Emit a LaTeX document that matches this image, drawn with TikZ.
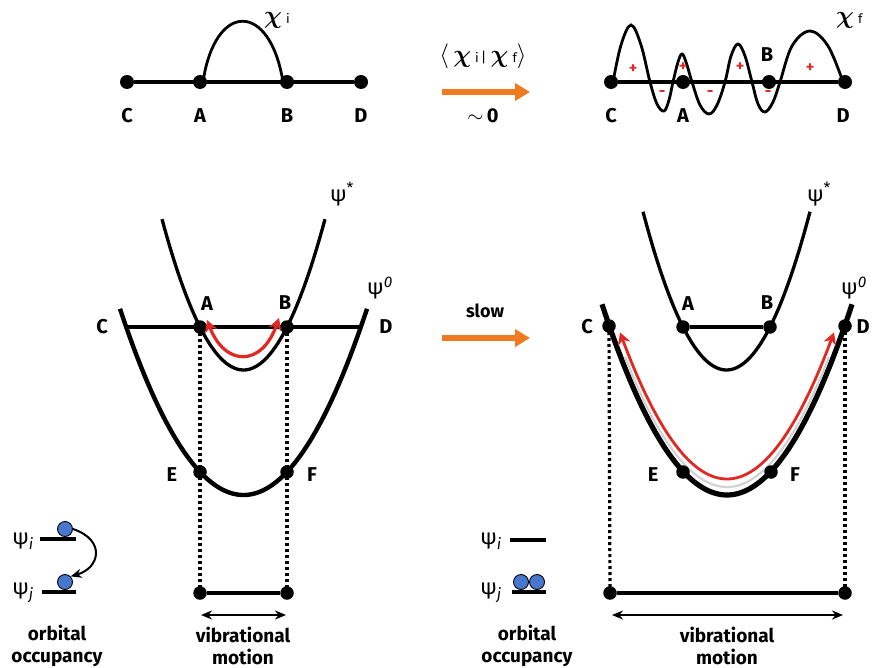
\documentclass[tikz,border=0pt]{standalone}
\usepackage{bm}
\usepackage{fontspec}
\setmainfont{Fira Sans}
\usetikzlibrary{arrows.meta}
\definecolor{orng}{RGB}{240,122,32}
\definecolor{redc}{RGB}{225,40,35}
\definecolor{ballc}{RGB}{70,120,205}
\begin{document}
\begin{tikzpicture}[x=1pt,y=-1pt,
  dot/.style={circle,fill=black,inner sep=0pt,minimum size=14pt},
  sdot/.style={circle,fill=black,inner sep=0pt,minimum size=13.5pt},
  lbl/.style={font=\fontsize{20}{22}\selectfont\bfseries,inner sep=0pt},
  psil/.style={font=\fontsize{22}{24}\selectfont,inner sep=0pt},
  chil/.style={font=\fontsize{24}{26}\selectfont,inner sep=0pt},
  sgn/.style={text=redc,font=\fontsize{16}{17}\selectfont\bfseries,inner sep=0pt},
  axisline/.style={line width=4pt},
  thinbar/.style={line width=3.6pt},
  pstar/.style={line width=3.3pt},
  pzero/.style={line width=4.4pt},
  dotline/.style={line width=3.2pt,dash pattern=on 3pt off 3pt},
  motion/.style={line width=2pt,{Stealth[length=11pt,width=9pt]}-{Stealth[length=11pt,width=9pt]}},
  orarrow/.style={orng,line width=6pt,-{Triangle[length=15pt,width=17pt]}},
  redtips/.style={{Stealth[length=12pt,width=13pt,inset=4pt]}-{Stealth[length=12pt,width=13pt,inset=4pt]}},
  level/.style={line width=4.4pt},
  ball/.style={circle,fill=ballc,draw=black,line width=0.9pt,inner sep=0pt,minimum size=15pt},
  bot/.style={font=\fontsize{19}{22}\selectfont\bfseries,align=center,inner sep=0pt}]
\useasboundingbox (0,0) rectangle (877,668);

% ---------- top left: chi_i ----------
\node[dot] (tC) at (127,82) {};
\node[dot] (tA) at (200,82) {};
\node[dot] (tB) at (287,82) {};
\node[dot] (tD) at (361,82) {};
\draw[axisline] (tC) -- (tD);
\draw[line width=2.8pt] ([xshift=3pt]tA.center) .. controls (215,1) and (270,1) .. ([xshift=-4pt]tB.center);
\node[lbl] (ltC) at (127,116) {C};
\node[lbl] (ltA) at (200,116) {A};
\node[lbl] (ltB) at (287,116) {B};
\node[lbl] (ltD) at (361,116) {D};
\node[chil,anchor=west] (chii) at (264,20) {$\bm{\chi}$\kern4pt{\fontsize{13}{13}\selectfont i}};

% ---------- top middle ----------
\node[chil] (braket) at (483,56) {$\langle\,\bm{\chi}$\,{\fontsize{13}{13}\selectfont i\,}{\fontsize{14}{14}\selectfont|}\,$\bm{\chi}$\,{\fontsize{13}{13}\selectfont f}$\rangle$};
\coordinate (oa1) at (442,92);
\coordinate (oa2) at (530,92);
\draw[orarrow] (oa1) -- (oa2);
\node[lbl] (approx) at (483,116) {$\sim$\,0};

% ---------- top right: chi_f ----------
\node[dot] (rC) at (611,82) {};
\node[dot] (rA) at (683,82) {};
\node[dot] (rB) at (769,82) {};
\node[dot] (rD) at (845,82) {};
\draw[axisline] (rC) -- (rD);
\draw[line width=2.8pt] plot[smooth,tension=0.6] coordinates {(613,82) (621,45) (631,25) (641,45) (650,82) (657,104) (664,111) (669,100) (673,82) (678,62) (682,54) (686,62) (692,82) (700,105) (709,114) (717,105) (725,82) (731,56) (738,44) (745,56) (752,82) (758,104) (765,112) (773,102) (780,82) (792,46) (810,31) (828,46) (843,82)};
\node[lbl] (rlC) at (611,116) {C};
\node[lbl] (rlA) at (683,116) {A};
\node[lbl] (rlB) at (767,55) {B};
\node[lbl] (rlD) at (843,116) {D};
\node[chil,anchor=west] (chif) at (836,20) {$\bm{\chi}$\kern4pt{\fontsize{13}{13}\selectfont f}};
\node[sgn] (s1) at (633,69) {+};
\node[sgn] (s2) at (662,94) {-};
\node[sgn] (s3) at (683,67) {+};
\node[sgn] (s4) at (710,94) {-};
\node[sgn] (s5) at (740,67) {+};
\node[sgn] (s6) at (768,94) {-};
\node[sgn] (s7) at (810,68) {+};

% ---------- lower left ----------
\draw[pstar] plot[domain=162:325,samples=60] (\x,{370-0.0227*(\x-243.5)^2});
\draw[pzero] plot[domain=120:367,samples=80] (\x,{495-0.0122*(\x-243.5)^2});
\node[sdot] (lA) at (200,327) {};
\node[sdot] (lB) at (287,327) {};
\node[sdot] (lE) at (200,472) {};
\node[sdot] (lF) at (287,472) {};
\coordinate (lCe) at (127,327);
\coordinate (lDe) at (360,327);
\draw[thinbar] (lCe) -- (lDe);
\coordinate (ra1) at (207,320);
\coordinate (ra2) at (279,318);
\draw[redc,line width=3.2pt,redtips] (ra1) .. controls (225,367) and (262,367) .. (ra2);
\node[sdot] (lL) at (200,593) {};
\node[sdot] (lR) at (287,593) {};
\draw[dotline] (lA.center) -- (lL.center);
\draw[dotline] (lB.center) -- (lR.center);
\draw[axisline] (lL) -- (lR);
\coordinate (lm1) at (201,615);
\coordinate (lm2) at (286,615);
\draw[motion] (lm1) -- (lm2);
\node[lbl] (llC) at (102,327) {C};
\node[lbl] (llD) at (386,327) {D};
\node[lbl] (llA) at (207,304) {A};
\node[lbl] (llB) at (285,303) {B};
\node[lbl] (llE) at (172,475) {E};
\node[lbl] (llF) at (312,475) {F};
\node[psil] (lpstar) at (342,194) {ψ\textsuperscript{*}};
\node[psil] (lpzero) at (380,288) {ψ\textsuperscript{\itshape 0}};
\node[bot] (lvib) at (243,646) {vibrational\\motion};

% orbital occupancy left
\node[psil] (lpi) at (23,541) {ψ\textsubscript{\itshape i}};
\node[psil] (lpj) at (23,593) {ψ\textsubscript{\itshape j}};
\coordinate (li1) at (40,539);
\coordinate (li2) at (76,539);
\coordinate (lj1) at (42,592);
\coordinate (lj2) at (76,592);
\draw[level] (li1) -- (li2);
\draw[level] (lj1) -- (lj2);
\node[ball] (lb1) at (65,529) {};
\node[ball] (lb2) at (65,582) {};
\draw[line width=2pt,-{Stealth[length=11pt,width=9pt]}] (lb1.east) .. controls (106,540) and (100,568) .. (lb2.north east);
\node[bot] (lorb) at (57,646) {orbital\\occupancy};

% ---------- middle arrow ----------
\node[lbl,font=\fontsize{18}{20}\selectfont\bfseries] (slow) at (485,311) {slow};
\coordinate (sa1) at (442,338);
\coordinate (sa2) at (530,338);
\draw[orarrow] (sa1) -- (sa2);

% ---------- lower right ----------
\draw[pstar] plot[domain=643:810,samples=60] (\x,{370-0.0227*(\x-726.5)^2});
\draw[line width=5.2pt] plot[domain=602:852,samples=80] (\x,{495-0.0122*(\x-727)^2});
\draw[gray!35,line width=2.2pt] plot[domain=625:829,samples=80] (\x,{487-0.0125*(\x-727)^2});
\draw[redc,line width=2.8pt,redtips] plot[domain=620:834,samples=80] (\x,{479-0.0128*(\x-727)^2});
\node[sdot] (rrA) at (683,327) {};
\node[sdot] (rrB) at (770,327) {};
\draw[thinbar] (rrA) -- (rrB);
\node[sdot] (rrC) at (609,326) {};
\node[sdot] (rrD) at (845,326) {};
\node[sdot] (rrE) at (683,472) {};
\node[sdot] (rrF) at (771,472) {};
\node[sdot] (rrL) at (610,593) {};
\node[sdot] (rrR) at (845,593) {};
\draw[dotline] (rrC.center) -- (rrL.center);
\draw[dotline] (rrD.center) -- (rrR.center);
\draw[axisline] (rrL) -- (rrR);
\coordinate (rm1) at (612,615);
\coordinate (rm2) at (843,615);
\draw[motion] (rm1) -- (rm2);
\node[lbl] (rlbC) at (587,327) {C};
\node[lbl] (rlbD) at (863,327) {D};
\node[lbl] (rlbA) at (688,304) {A};
\node[lbl] (rlbB) at (767,303) {B};
\node[lbl] (rlbE) at (653,475) {E};
\node[lbl] (rlbF) at (795,475) {F};
\node[psil] (rpstar) at (819,194) {ψ\textsuperscript{*}};
\node[psil] (rpzero) at (854,288) {ψ\textsuperscript{\itshape 0}};
\node[bot] (rvib) at (727,646) {vibrational\\motion};

% orbital occupancy right
\node[psil] (rpi) at (491,541) {ψ\textsubscript{\itshape i}};
\node[psil] (rpj) at (491,593) {ψ\textsubscript{\itshape j}};
\coordinate (ri1) at (510,540);
\coordinate (ri2) at (546,540);
\coordinate (rj1) at (512,592);
\coordinate (rj2) at (546,592);
\draw[level] (ri1) -- (ri2);
\draw[level] (rj1) -- (rj2);
\node[ball] (rb1) at (521,582) {};
\node[ball] (rb2) at (537,582) {};
\node[bot] (rorb) at (527,646) {orbital\\occupancy};
\end{tikzpicture}
\end{document}
